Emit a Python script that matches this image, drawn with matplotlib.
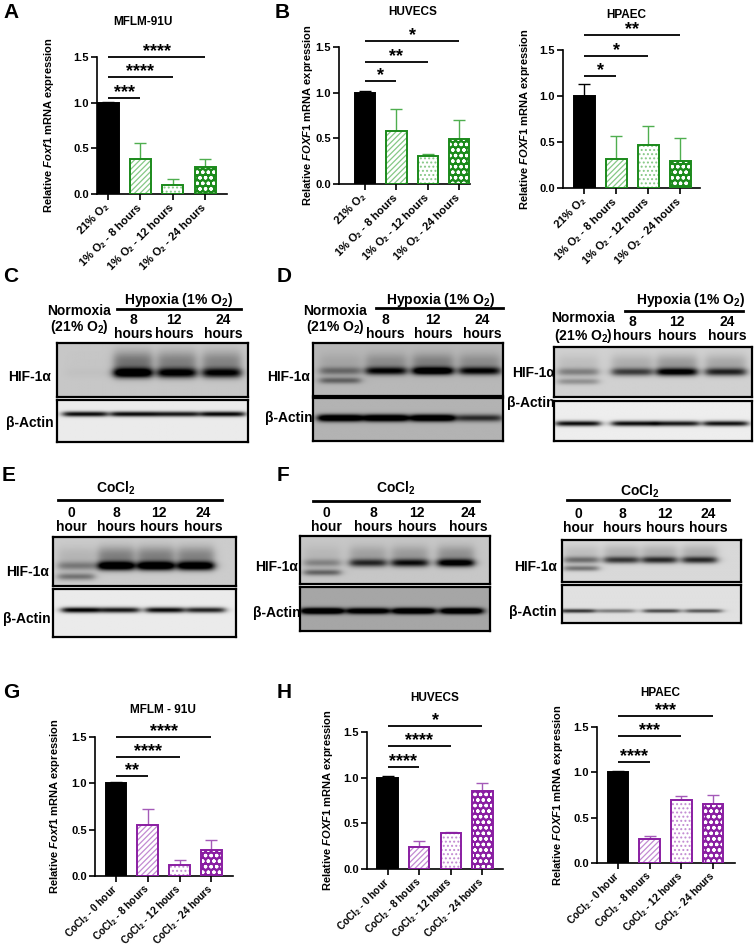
import numpy as np
import matplotlib
matplotlib.use("Agg")
import matplotlib.pyplot as plt

plt.rcParams["font.family"] = ["Liberation Sans", "DejaVu Sans"]
plt.rcParams["font.weight"] = "bold"
plt.rcParams["mathtext.fontset"] = "custom"
plt.rcParams["mathtext.rm"] = "Liberation Sans"
plt.rcParams["mathtext.it"] = "Liberation Sans:italic:bold"
plt.rcParams["mathtext.bf"] = "Liberation Sans:bold"
plt.rcParams["hatch.linewidth"] = 0.9

W, H = 754, 947

# ---------------- qPCR data ----------------
hyp_labels = ["21% O$_\\mathrm{2}$", "1% O$_\\mathrm{2}$ - 8 hours",
              "1% O$_\\mathrm{2}$ - 12 hours", "1% O$_\\mathrm{2}$ - 24 hours"]
cocl_labels = ["CoCl$_\\mathrm{2}$ - 0 hour", "CoCl$_\\mathrm{2}$ - 8 hours",
               "CoCl$_\\mathrm{2}$ - 12 hours", "CoCl$_\\mathrm{2}$ - 24 hours"]

mflm_hyp = [1.00, 0.38, 0.10, 0.30]
mflm_hyp_err = [0.01, 0.18, 0.06, 0.085]
huvec_hyp = [1.00, 0.58, 0.31, 0.49]
huvec_hyp_err = [0.02, 0.24, 0.02, 0.21]
hpaec_hyp = [1.00, 0.31, 0.47, 0.29]
hpaec_hyp_err = [0.13, 0.26, 0.20, 0.25]

mflm_cocl = [1.00, 0.55, 0.12, 0.28]
mflm_cocl_err = [0.01, 0.17, 0.05, 0.105]
huvec_cocl = [1.00, 0.24, 0.39, 0.85]
huvec_cocl_err = [0.02, 0.07, 0.02, 0.09]
hpaec_cocl = [1.00, 0.27, 0.69, 0.65]
hpaec_cocl_err = [0.01, 0.03, 0.05, 0.10]

# significance vs. first group (bracket heights in data units)
mflm_hyp_sig = ["***", "****", "****"]
mflm_hyp_sig_y = [1.05, 1.28, 1.50]
huvec_hyp_sig = ["*", "**", "*"]
huvec_hyp_sig_y = [1.13, 1.34, 1.57]
hpaec_hyp_sig = ["*", "*", "**"]
hpaec_hyp_sig_y = [1.22, 1.43, 1.66]
mflm_cocl_sig = ["**", "****", "****"]
mflm_cocl_sig_y = [1.08, 1.28, 1.50]
huvec_cocl_sig = ["****", "****", "*"]
huvec_cocl_sig_y = [1.12, 1.35, 1.57]
hpaec_cocl_sig = ["****", "***", "***"]
hpaec_cocl_sig_y = [1.11, 1.40, 1.62]

# ---------------- western blot band strengths (0 = none, 1 = black) ----------------
hyp_lanes = ["8\nhours", "12\nhours", "24\nhours"]
cocl_lanes = ["0\nhour", "8\nhours", "12\nhours", "24\nhours"]

c_hif = [0.02, 0.95, 0.80, 0.75]
c_actin = [0.90, 0.90, 0.85, 0.92]
d_hif = [0.30, 0.70, 0.90, 0.70]
d_hif_low = [0.35, 0.0, 0.0, 0.0]
d_actin = [1.00, 1.00, 1.00, 0.55]
d2_hif = [0.30, 0.55, 0.85, 0.65]
d2_hif_low = [0.25, 0.0, 0.0, 0.0]
d2_actin = [0.90, 0.90, 0.85, 0.88]
e_hif = [0.30, 1.00, 1.00, 0.95]
e_hif_low = [0.35, 0.0, 0.0, 0.0]
e_actin = [0.95, 0.85, 0.90, 0.80]
f_hif = [0.25, 0.60, 0.70, 0.85]
f_hif_low = [0.40, 0.0, 0.0, 0.0]
f_actin = [1.00, 0.85, 0.95, 0.95]
f2_hif = [0.40, 0.60, 0.65, 0.65]
f2_hif_low = [0.40, 0.0, 0.0, 0.0]
f2_actin = [0.70, 0.40, 0.60, 0.55]

green = {"edge": "#1b8a1b", "light": "#86c886", "err": "#4fae4f", "fill": "#1b8a1b"}
purple = {"edge": "#8a1ea2", "light": "#c28ad2", "err": "#a45ab8", "fill": "#8a1ea2"}

fig = plt.figure(figsize=(W / 100, H / 100), dpi=100)


def px(x, y):
    return x / W, 1 - y / H


def ftext(x, y, s, size=10, ha="center", **kw):
    fig.text(*px(x, y), s, fontsize=size, fontweight="bold", ha=ha, va="center", **kw)


def fline(x0, x1, y, lw=2.0):
    fig.add_artist(plt.Line2D([x0 / W, x1 / W], [1 - y / H] * 2, color="black", lw=lw))


def bar_panel(rect, xlim, vals, errs, labels, sig, sig_y, pal, gene, ylab_x, xlab_size=8):
    l, t, r, b = rect
    ax = fig.add_axes([l / W, 1 - b / H, (r - l) / W, (b - t) / H])
    x = np.arange(len(vals))
    bw = 0.65
    faces = ["black", "white", "white", pal["fill"]]
    hcol = ["black", pal["light"], pal["light"], "white"]
    hatches = [None, "//////", "....", "ooo"]
    edges = ["black", pal["edge"], pal["edge"], pal["edge"]]
    ecols = ["black", pal["err"], pal["err"], pal["err"]]
    for i in range(len(vals)):
        ax.bar(x[i], vals[i], bw, color=faces[i], edgecolor=hcol[i], hatch=hatches[i], lw=0, zorder=2)
        ax.bar(x[i], vals[i], bw, fill=False, edgecolor=edges[i], lw=1.4, zorder=3)
        ax.errorbar(x[i], vals[i], yerr=[[0], [errs[i]]], color=ecols[i], capsize=4,
                    lw=1.0, capthick=1.0, zorder=1)
    for j in range(1, len(vals)):
        ax.plot([0, j], [sig_y[j - 1]] * 2, color="black", lw=1.3, clip_on=False, solid_capstyle="butt")
        ax.text(j / 2, sig_y[j - 1] + 0.01, sig[j - 1], ha="center", va="baseline",
                fontsize=13, fontweight="bold", clip_on=False)
    ax.set_xlim(*xlim)
    ax.set_ylim(0, 1.5)
    ax.set_yticks([0, 0.5, 1.0, 1.5])
    ax.set_yticklabels(["0.0", "0.5", "1.0", "1.5"])
    ax.set_xticks(x)
    ax.set_xticklabels(labels, rotation=45, ha="right", va="center", rotation_mode="anchor")
    ax.tick_params(axis="both", direction="out", length=4, width=1.2, labelsize=8, pad=2)
    ax.tick_params(axis="x", pad=4, labelsize=xlab_size)
    for lab in ax.get_xticklabels() + ax.get_yticklabels():
        lab.set_fontweight("bold")
    for s in ["top", "right"]:
        ax.spines[s].set_visible(False)
    for s in ["left", "bottom"]:
        ax.spines[s].set_linewidth(1.2)
    ax.set_ylabel("Relative $\\mathit{" + gene + "}$ mRNA expression", fontsize=8, fontweight="bold")
    ax.yaxis.set_label_coords((ylab_x - l) / (r - l), 0.5)
    return ax


def blot(box, lanes, levels, band_y, band_h, bg, low=None, smear=0.0, half=17):
    l, t, r, b = box
    ax = fig.add_axes([l / W, 1 - b / H, (r - l) / W, (b - t) / H])
    xs = np.linspace(l, r, 300)
    ys = np.linspace(t, b, 90)
    X, Y = np.meshgrid(xs, ys)
    img = np.full(X.shape, bg)
    for k, (cx, lev) in enumerate(zip(lanes, levels)):
        lane = 1 / (1 + np.exp((np.abs(X - cx) - half) / 2.5))
        img += lev * lane * np.exp(-((Y - band_y) / band_h) ** 2)
        if smear:
            img += smear * lev * lane * np.exp(-((Y - band_y + 2.2 * band_h) / (2.2 * band_h)) ** 2)
        if low is not None and low[k]:
            img += low[k] * lane * np.exp(-((Y - band_y - 2.4 * band_h) / (0.8 * band_h)) ** 2)
    img = np.clip(img, 0, 1)
    ax.imshow(img, cmap="gray_r", vmin=0, vmax=1, extent=[l, r, b, t], aspect="auto",
              interpolation="bilinear")
    ax.set_xlim(l, r)
    ax.set_ylim(b, t)
    ax.set_xticks([])
    ax.set_yticks([])
    for s in ax.spines.values():
        s.set_linewidth(1.6)
    return ax


# ---------------- panel letters ----------------
for letter, (lx, ly) in zip("ABCDEFGH", [(3, 13), (275, 12), (3, 276), (277, 277),
                                         (2, 475), (277, 475), (3, 692), (277, 692)]):
    fig.text(*px(lx, ly), letter, fontsize=15, fontweight="bold", ha="left", va="center")

# ---------------- A, B: hypoxia qPCR ----------------
bar_panel((97, 57, 227, 194), (-0.34, 3.68), mflm_hyp, mflm_hyp_err, hyp_labels,
          mflm_hyp_sig, mflm_hyp_sig_y, green, "Foxf1", 56)
ftext(143, 22, "MFLM-91U", size=8.5)
bar_panel((339, 47, 470, 184), (-0.83, 3.35), huvec_hyp, huvec_hyp_err, hyp_labels,
          huvec_hyp_sig, huvec_hyp_sig_y, green, "FOXF1", 315)
ftext(413, 12, "HUVECS", size=8.5)
bar_panel((563, 50, 700, 188), (-0.66, 3.62), hpaec_hyp, hpaec_hyp_err, hyp_labels,
          hpaec_hyp_sig, hpaec_hyp_sig_y, green, "FOXF1", 532)
ftext(626, 15, "HPAEC", size=8.5)

# ---------------- G, H: CoCl2 qPCR ----------------
bar_panel((95, 737, 233, 876), (-0.66, 3.68), mflm_cocl, mflm_cocl_err, cocl_labels,
          mflm_cocl_sig, mflm_cocl_sig_y, purple, "Foxf1", 62, xlab_size=7.2)
ftext(163, 710, "MFLM - 91U", size=8.5)
bar_panel((367, 732, 503, 869), (-0.65, 3.65), huvec_cocl, huvec_cocl_err, cocl_labels,
          huvec_cocl_sig, huvec_cocl_sig_y, purple, "FOXF1", 335, xlab_size=7.2)
ftext(435, 698, "HUVECS", size=8.5)
bar_panel((597, 727, 735, 863), (-0.66, 3.69), hpaec_cocl, hpaec_cocl_err, cocl_labels,
          hpaec_cocl_sig, hpaec_cocl_sig_y, purple, "FOXF1", 565, xlab_size=7.2)
ftext(660, 693, "HPAEC", size=8.5)

hyp_head = "Hypoxia (1% O$_\\mathbf{2}$)"
norm_head = "Normoxia\n(21% O$_\\mathbf{2}$)"
cocl_head = "CoCl$_\\mathbf{2}$"

# ---------------- C: MFLM-91U hypoxia blot ----------------
ftext(79, 320, norm_head, linespacing=1.0)
ftext(178, 300, hyp_head)
fline(117, 241, 309)
for cx, s in zip([133, 174, 223], hyp_lanes):
    ftext(cx, 327, s, linespacing=0.95)
blot((57, 343, 248, 397), [85, 133, 177, 222], c_hif, 373, 5, 0.22, smear=0.35, half=19)
blot((57, 400, 248, 442), [85, 133, 177, 223], c_actin, 414, 2.6, 0.08, half=22)
ftext(30, 377, "HIF-1α")
ftext(30, 423, "β-Actin")

# ---------------- D: HUVEC hypoxia blot ----------------
ftext(335, 320, norm_head, linespacing=1.0)
ftext(440, 300, hyp_head)
fline(376, 503, 308)
for cx, s in zip([385, 433, 482], hyp_lanes):
    ftext(cx, 327, s, linespacing=0.95)
blot((313, 343, 503, 396), [340, 386, 433, 480], d_hif, 371, 4, 0.28, low=d_hif_low, smear=0.25, half=20)
blot((313, 398, 503, 441), [340, 386, 433, 480], d_actin, 418, 3.6, 0.30, half=22)
ftext(289, 377, "HIF-1α")
ftext(289, 418, "β-Actin")

# ---------------- D (right): HPAEC hypoxia blot ----------------
ftext(583, 328, norm_head, linespacing=1.15)
ftext(690, 300, hyp_head)
fline(625, 743, 311)
for cx, s in zip([632, 677, 727], hyp_lanes):
    ftext(cx, 329, s, linespacing=1.05)
blot((554, 347, 752, 397), [578, 632, 677, 726], d2_hif, 372, 4, 0.18, low=d2_hif_low, smear=0.25, half=20)
blot((554, 401, 752, 441), [578, 634, 677, 726], d2_actin, 424, 2.6, 0.07, half=22)
ftext(555, 373, "HIF-1α", ha="right")
ftext(555, 403, "β-Actin", ha="right")

# ---------------- E: MFLM-91U CoCl2 blot ----------------
ftext(116, 488, cocl_head)
fline(58, 222, 500)
for cx, s in zip([71, 116, 159, 203], cocl_lanes):
    ftext(cx, 520, s, linespacing=0.95)
blot((53, 537, 236, 586), [76, 116, 156, 196], e_hif, 566, 4.5, 0.20, low=e_hif_low, smear=0.30, half=18)
blot((53, 589, 236, 637), [81, 120, 165, 206], e_actin, 610, 2.8, 0.08, half=19)
ftext(28, 572, "HIF-1α")
ftext(27, 619, "β-Actin")

# ---------------- F: HUVEC CoCl2 blot ----------------
ftext(396, 488, cocl_head)
fline(313, 479, 501)
for cx, s in zip([326, 373, 417, 468], cocl_lanes):
    ftext(cx, 520, s, linespacing=0.95)
blot((300, 536, 490, 584), [322, 368, 410, 456], f_hif, 563, 4, 0.22, low=f_hif_low, smear=0.25, half=18)
blot((300, 587, 490, 631), [322, 368, 414, 462], f_actin, 611, 3.2, 0.35, half=21)
ftext(277, 567, "HIF-1α")
ftext(277, 613, "β-Actin")

# ---------------- F (right): HPAEC CoCl2 blot ----------------
ftext(640, 491, cocl_head)
fline(567, 729, 500)
for cx, s in zip([578, 622, 665, 708], cocl_lanes):
    ftext(cx, 521, s, linespacing=1.05)
blot((562, 540, 741, 582), [581, 621, 659, 699], f2_hif, 560, 3.5, 0.15, low=f2_hif_low, smear=0.25, half=17)
blot((562, 585, 741, 623), [577, 616, 661, 703], f2_actin, 611, 2.0, 0.12, half=18)
ftext(557, 567, "HIF-1α", ha="right")
ftext(557, 612, "β-Actin", ha="right")

fig.savefig("out.png", dpi=100)
